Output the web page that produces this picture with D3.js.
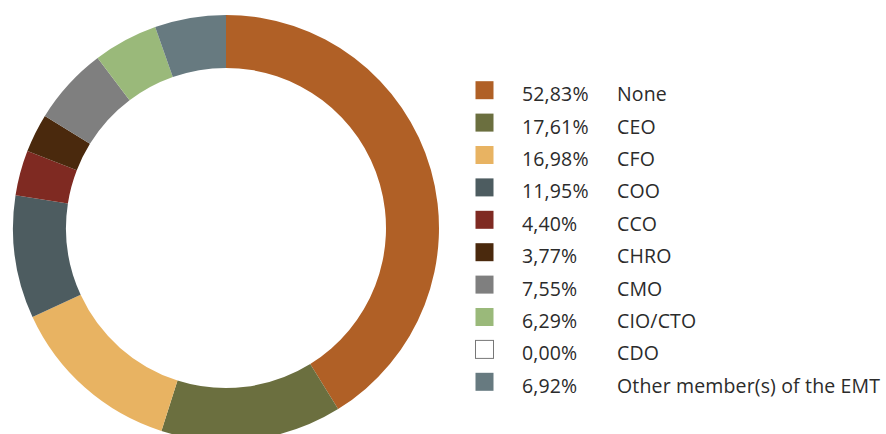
<!DOCTYPE html>
<html>
<head>
<meta charset="utf-8">
<script src="https://cdn.jsdelivr.net/npm/d3@7"></script>
<style>
body { margin: 0; background: #fff; }
text { font-family: "Open Sans", sans-serif; }
</style>
</head>
<body>
<div id="main"></div>
<script>
// data
var categories = ["None", "CEO", "CFO", "COO", "CCO", "CHRO", "CMO", "CIO/CTO", "CDO", "Other member(s) of the EMT"];
var values = [52.83, 17.61, 16.98, 11.95, 4.40, 3.77, 7.55, 6.29, 0.00, 6.92];
var labels = ["52,83%", "17,61%", "16,98%", "11,95%", "4,40%", "3,77%", "7,55%", "6,29%", "0,00%", "6,92%"];
var colors = ["#b06026", "#6b6f3f", "#e8b362", "#4d5c60", "#7f2a22", "#4a290d", "#7f7f7f", "#9ab97a", "#ffffff", "#677a80"];

var w = 886,
	h = 434;

var svg = d3.select("#main")
	.append("svg")
	.attr("width", w)
	.attr("height", h);

// donut
var pie = d3.pie().sort(null).value(function(d) { return d; });
var arc = d3.arc().innerRadius(160).outerRadius(213);

var g = svg.append("g")
	.attr("transform", "translate(226,228)");

g.selectAll("path")
	.data(pie(values))
	.enter()
	.append("path")
	.attr("d", arc)
	.attr("fill", function(d, i) { return colors[i]; });

// legend
var y = d3.scaleBand()
	.domain(categories)
	.range([74, 398]);

var row = svg.selectAll(".leg")
	.data(categories)
	.enter()
	.append("g")
	.attr("class", "leg")
	.attr("transform", function(d) { return "translate(0," + (y(d) + y.bandwidth() / 2) + ")"; });

row.append("rect")
	.attr("x", 475.5)
	.attr("y", -9)
	.attr("width", 18)
	.attr("height", 18)
	.attr("fill", function(d, i) { return colors[i]; })
	.attr("stroke", function(d, i) { return colors[i] == "#ffffff" ? "#777" : "none"; });

row.append("text")
	.attr("x", 522)
	.attr("y", 11)
	.attr("fill", "#2b2b2b")
	.style("font-size", "19.5px")
	.style("letter-spacing", "0.15px")
	.text(function(d, i) { return labels[i]; });

row.append("text")
	.attr("x", 617)
	.attr("y", 11)
	.attr("fill", "#2b2b2b")
	.style("font-size", "19.5px")
	.style("letter-spacing", "0.15px")
	.text(function(d) { return d; });
</script>
</body>
</html>
